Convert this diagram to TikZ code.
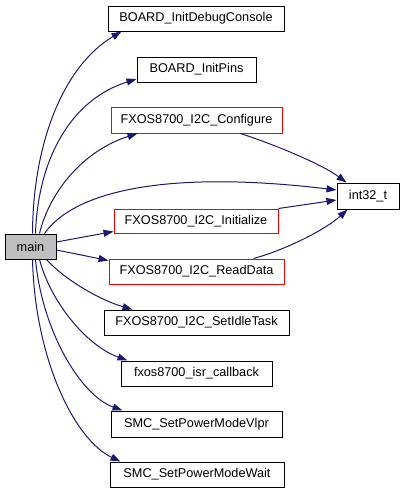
\documentclass[tikz,border=0pt]{standalone}
\usepackage{fontspec}
\setmainfont{Liberation Sans}
\usetikzlibrary{arrows.meta}
\definecolor{edgeblue}{HTML}{191970}
\begin{document}
\begin{tikzpicture}[x=1pt,y=-1pt,
  fn/.style={draw=black,line width=1pt,fill=white,inner sep=0pt,font=\fontsize{12.7}{15}\selectfont},
  fnred/.style={fn,draw=red},
  fnmain/.style={fn,fill=black!25},
  call/.style={draw=edgeblue,line width=1pt,-{Triangle[length=10pt,width=7pt]},fill=none}]
\useasboundingbox (0,0) rectangle (404,493);
\node[fn,minimum width=176pt,minimum height=25pt] (dbg) at (196,18.5) {BOARD\_InitDebugConsole};
\node[fn,minimum width=119pt,minimum height=25pt] (pins) at (196.5,69.5) {BOARD\_InitPins};
\node[fnred,minimum width=171pt,minimum height=26pt] (cfg) at (196.5,120) {FXOS8700\_I2C\_Configure};
\node[fn,minimum width=62pt,minimum height=26pt] (int) at (368,196) {int32\_t};
\node[fnred,minimum width=164pt,minimum height=24pt] (ini) at (196,221) {FXOS8700\_I2C\_Initialize};
\node[fnmain,minimum width=51pt,minimum height=25pt] (main) at (30.5,246.5) {main};
\node[fnred,minimum width=175pt,minimum height=25pt] (rd) at (196.5,271.5) {FXOS8700\_I2C\_ReadData};
\node[fn,minimum width=185pt,minimum height=25pt] (idle) at (196.5,322.5) {FXOS8700\_I2C\_SetIdleTask};
\node[fn,minimum width=151pt,minimum height=25pt] (isr) at (196.5,373.5) {fxos8700\_isr\_callback};
\node[fn,minimum width=171pt,minimum height=26pt] (vlpr) at (196.5,424) {SMC\_SetPowerModeVlpr};
\node[fn,minimum width=174pt,minimum height=25pt] (wait) at (197,474.5) {SMC\_SetPowerModeWait};

\draw[call] ([xshift=28pt]main.north west) .. controls (33,140) and (65,65) .. ([xshift=14pt]dbg.south west);
\draw[call] ([xshift=31pt]main.north west) .. controls (38,160) and (70,100) .. ([yshift=-9.5pt]pins.west);
\draw[call] ([xshift=35pt]main.north west) .. controls (50,190) and (85,150) .. ([xshift=27pt]cfg.south west);
\draw[call] ([xshift=40pt]main.north west) .. controls (75,190) and (170,170) .. ([yshift=6pt]int.west);
\draw[call] ([yshift=4.5pt]main.east) -- ([yshift=2pt]ini.south west);
\draw[call] ([yshift=-3.5pt]main.east) -- ([yshift=-2pt]rd.north west);
\draw[call] ([xshift=42pt]main.south west) .. controls (65,280) and (100,300) .. ([xshift=29pt]idle.north west);
\draw[call] ([xshift=35pt]main.south west) .. controls (50,300) and (85,345) .. ([xshift=7pt]isr.north west);
\draw[call] ([xshift=31pt]main.south west) .. controls (42,330) and (80,395) .. ([xshift=12pt]vlpr.north west);
\draw[call] ([xshift=28pt]main.south west) .. controls (35,360) and (75,440) .. ([xshift=11pt]wait.north west);
\draw[call] ([xshift=-42pt]cfg.south east) .. controls (270,143) and (320,163) .. ([xshift=10pt]int.north west);
\draw[call] (ini.north east) -- ([yshift=-4pt]int.west);
\draw[call] ([xshift=-31pt]rd.north east) .. controls (285,250) and (325,230) .. ([xshift=11pt]int.south west);
\end{tikzpicture}
\end{document}
